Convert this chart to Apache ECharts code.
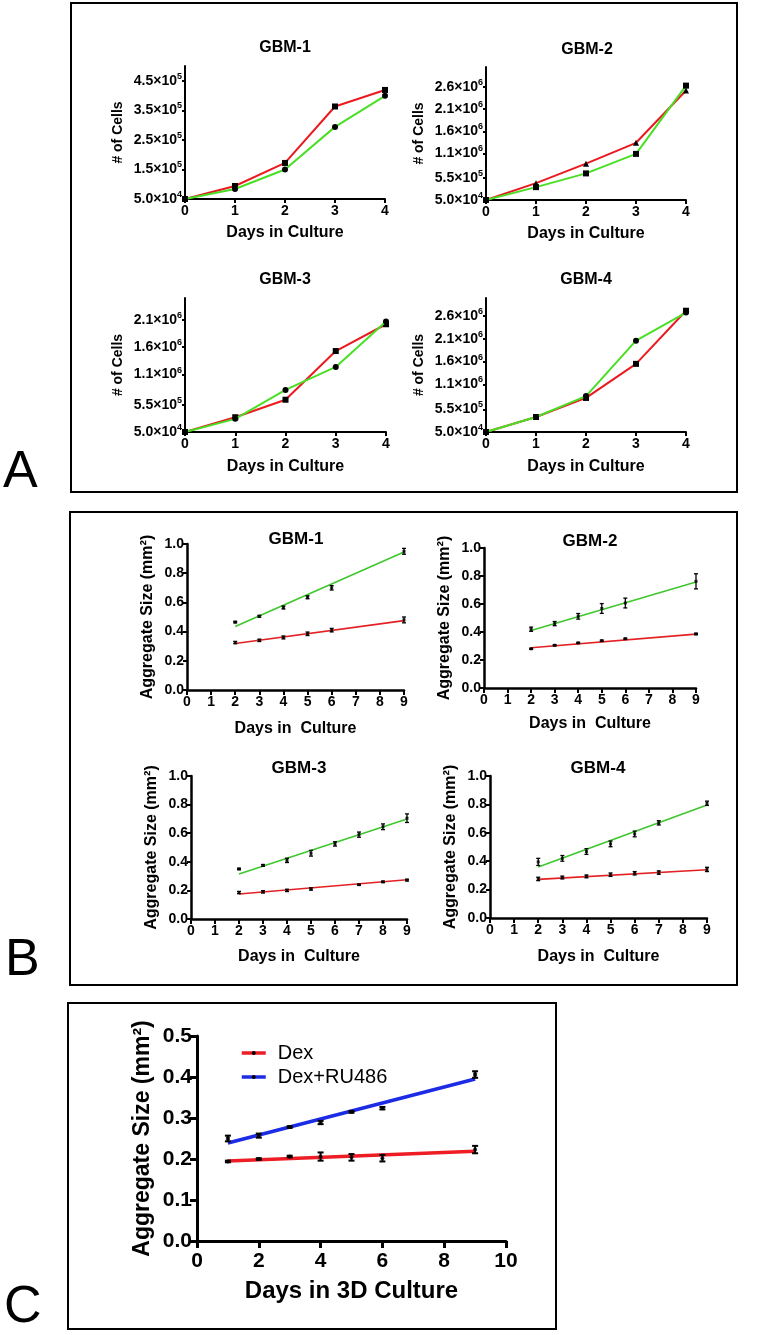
<!DOCTYPE html>
<html><head><meta charset="utf-8">
<script src="https://cdn.jsdelivr.net/npm/echarts@6/dist/echarts.min.js"></script>
<style>html,body{margin:0;padding:0;background:#fff}#c{width:763px;height:1335px}</style>
</head><body><div id="c"></div>
<script>
// ---------------- DATA ----------------
// Panel A: cell counts
const A_days = [0, 1, 2, 3, 4];
const A_titles = ['GBM-1', 'GBM-2', 'GBM-3', 'GBM-4'];
const A1_red   = [5.0e4, 9.4e4, 1.72e5, 3.63e5, 4.19e5];
const A1_green = [5.0e4, 8.4e4, 1.50e5, 2.94e5, 3.99e5];
const A2_red   = [5.0e4, 4.3e5, 8.7e5, 1.34e6, 2.52e6];
const A2_green = [5.0e4, 3.4e5, 6.5e5, 1.09e6, 2.63e6];
const A3_red   = [5.0e4, 3.2e5, 6.4e5, 1.53e6, 2.02e6];
const A3_green = [5.0e4, 2.9e5, 8.2e5, 1.24e6, 2.07e6];
const A4_red   = [5.0e4, 3.8e5, 8.0e5, 1.55e6, 2.72e6];
const A4_green = [5.0e4, 3.8e5, 8.4e5, 2.06e6, 2.68e6];
const A1_yTicks = [5.0e4, 1.5e5, 2.5e5, 3.5e5, 4.5e5];
const A2_yTicks = [5.0e4, 5.5e5, 1.1e6, 1.6e6, 2.1e6, 2.6e6];
const A3_yTicks = [5.0e4, 5.5e5, 1.1e6, 1.6e6, 2.1e6];
const A4_yTicks = [5.0e4, 5.5e5, 1.1e6, 1.6e6, 2.1e6, 2.6e6];
const A_yMin = [5.0e4, 5.0e4, 5.0e4, 5.0e4];
const A_yMax = [5.0e5, 3.05e6, 2.5e6, 3.0e6];
const A_xTicks = [0, 1, 2, 3, 4];

// Panel B: aggregate size (mean, error) + linear fits
const B_titles = ['GBM-1', 'GBM-2', 'GBM-3', 'GBM-4'];
const B1_days = [2, 3, 4, 5, 6, 9];
const B1_green = [0.465, 0.505, 0.565, 0.635, 0.700, 0.950];
const B1_greenErr = [0.005, 0.006, 0.010, 0.010, 0.015, 0.020];
const B1_red = [0.325, 0.340, 0.360, 0.385, 0.410, 0.480];
const B1_redErr = [0.008, 0.008, 0.010, 0.012, 0.012, 0.020];
const B2_days = [2, 3, 4, 5, 6, 9];
const B2_green = [0.420, 0.460, 0.512, 0.568, 0.607, 0.762];
const B2_greenErr = [0.015, 0.015, 0.020, 0.035, 0.035, 0.054];
const B2_red = [0.280, 0.305, 0.322, 0.338, 0.352, 0.386];
const B2_redErr = [0.004, 0.004, 0.004, 0.004, 0.004, 0.005];
const B3_greenDays = [2, 3, 4, 5, 6, 7, 8, 9];
const B3_green = [0.350, 0.375, 0.410, 0.460, 0.525, 0.590, 0.645, 0.705];
const B3_greenErr = [0.005, 0.006, 0.015, 0.020, 0.015, 0.018, 0.020, 0.030];
const B3_redDays = [2, 3, 4, 5, 7, 8, 9];
const B3_red = [0.185, 0.190, 0.200, 0.210, 0.240, 0.260, 0.272];
const B3_redErr = [0.008, 0.008, 0.008, 0.008, 0.004, 0.005, 0.006];
const B4_days = [2, 3, 4, 5, 6, 7, 9];
const B4_green = [0.395, 0.420, 0.468, 0.522, 0.592, 0.670, 0.808];
const B4_greenErr = [0.025, 0.020, 0.020, 0.020, 0.020, 0.015, 0.015];
const B4_red = [0.275, 0.285, 0.293, 0.305, 0.315, 0.320, 0.342];
const B4_redErr = [0.012, 0.010, 0.010, 0.012, 0.012, 0.012, 0.015];
const B_fitDays = [2, 9];
const B1_greenFit = [0.435, 0.945];
const B1_redFit = [0.318, 0.475];
const B2_greenFit = [0.410, 0.757];
const B2_redFit = [0.288, 0.385];
const B3_greenFit = [0.315, 0.700];
const B3_redFit = [0.175, 0.275];
const B4_greenFit = [0.360, 0.795];
const B4_redFit = [0.272, 0.340];

// Panel C: Dex vs Dex+RU486
const C_days = [1, 2, 3, 4, 5, 6, 9];
const C_dex = [0.194, 0.200, 0.206, 0.206, 0.204, 0.202, 0.223];
const C_dexErr = [0.002, 0.002, 0.002, 0.010, 0.008, 0.008, 0.009];
const C_ru = [0.250, 0.257, 0.278, 0.289, 0.315, 0.324, 0.406];
const C_ruErr = [0.007, 0.005, 0.002, 0.004, 0.002, 0.003, 0.008];
const C_fitDays = [1, 9];
const C_dexFit = [0.195, 0.219];
const C_ruFit = [0.239, 0.395];
const C_names = ['Dex', 'Dex+RU486'];

// ---------------- BUILD ----------------
const FONT = '"Liberation Sans", Arial, Helvetica, sans-serif';
const zip = (xs, ys) => xs.map((x, i) => [x, ys[i]]);

function sci(v) {
  const e = Math.floor(Math.log10(v) + 1e-9);
  const m = v / Math.pow(10, e);
  return '{m|' + m.toFixed(1) + '×10}{e|' + e + '}';
}

function errSeries(xi, days, vals, errs, cap, lw) {
  return {
    type: 'custom', xAxisIndex: xi, yAxisIndex: xi, silent: true, z: 6,
    data: days.map((d, i) => [d, vals[i] - errs[i], vals[i] + errs[i]]),
    encode: { x: 0, y: [1, 2] },
    renderItem(params, api) {
      const x = api.value(0);
      const lo = api.coord([x, api.value(1)]);
      const hi = api.coord([x, api.value(2)]);
      const h = cap / 2;
      const st = { stroke: '#000', lineWidth: lw };
      return { type: 'group', children: [
        { type: 'line', shape: { x1: lo[0], y1: lo[1], x2: hi[0], y2: hi[1] }, style: st },
        { type: 'line', shape: { x1: lo[0] - h, y1: lo[1], x2: lo[0] + h, y2: lo[1] }, style: st },
        { type: 'line', shape: { x1: hi[0] - h, y1: hi[1], x2: hi[0] + h, y2: hi[1] }, style: st }
      ]};
    }
  };
}

const grids = [
  { left: 185, top: 66, width: 200, height: 133 },
  { left: 486, top: 67, width: 200, height: 133 },
  { left: 185, top: 298, width: 201, height: 134 },
  { left: 486, top: 298, width: 200, height: 134 },
  { left: 187, top: 544, width: 217, height: 146 },
  { left: 484, top: 548, width: 212, height: 140 },
  { left: 191, top: 776, width: 216, height: 143 },
  { left: 490, top: 776, width: 217, height: 142 },
  { left: 197, top: 1036, width: 309, height: 205 }
];

const axLine = w => ({ show: true, onZero: false, lineStyle: { color: '#000', width: w } });
const xAxes = [], yAxes = [], series = [], titles = [];

// Panel A
const A_red = [A1_red, A2_red, A3_red, A4_red];
const A_green = [A1_green, A2_green, A3_green, A4_green];
const A_yT = [A1_yTicks, A2_yTicks, A3_yTicks, A4_yTicks];
const A_redSym = ['rect', 'triangle', 'rect', 'rect'];
const A_greenSym = ['circle', 'rect', 'circle', 'circle'];
const A_titlePos = [[285, 40], [587, 42], [285, 272], [586, 272]];
const A_xGap = [26, 26, 27, 27];
for (let i = 0; i < 4; i++) {
  xAxes.push({
    gridIndex: i, type: 'value', min: 0, max: 4, interval: 1,
    axisLine: axLine(2), splitLine: { show: false },
    axisTick: { show: true, length: 4, lineStyle: { width: 2, color: '#000' }, customValues: A_xTicks },
    axisLabel: { color: '#000', fontFamily: FONT, fontWeight: 'bold', fontSize: 14, margin: 5, customValues: A_xTicks },
    name: 'Days in Culture', nameLocation: 'middle', nameGap: A_xGap[i],
    nameTextStyle: { color: '#000', fontFamily: FONT, fontWeight: 'bold', fontSize: 16 }
  });
  yAxes.push({
    gridIndex: i, type: 'value', min: A_yMin[i], max: A_yMax[i],
    axisLine: axLine(2), splitLine: { show: false },
    axisTick: { show: true, length: 3, lineStyle: { width: 2, color: '#000' }, customValues: A_yT[i] },
    axisLabel: { color: '#000', margin: 3, customValues: A_yT[i], formatter: v => sci(v),
      rich: { m: { fontFamily: FONT, fontWeight: 'bold', fontSize: 14, color: '#000' },
              e: { fontFamily: FONT, fontWeight: 'bold', fontSize: 9, color: '#000', padding: [0, 0, 9, 0] } } },
    name: '# of Cells', nameLocation: 'middle', nameGap: 60, nameRotate: 90,
    nameTextStyle: { color: '#000', fontFamily: FONT, fontWeight: 'bold', fontSize: 14 }
  });
  titles.push({ text: A_titles[i], left: A_titlePos[i][0], top: A_titlePos[i][1], textAlign: 'center', padding: 0,
    textStyle: { fontFamily: FONT, fontWeight: 'bold', fontSize: 16, color: '#000' } });
  series.push({ type: 'line', xAxisIndex: i, yAxisIndex: i, data: zip(A_days, A_red[i]),
    lineStyle: { color: '#ea1a1f', width: 2 }, itemStyle: { color: '#000' },
    symbol: A_redSym[i], symbolSize: 6, z: 3 });
  series.push({ type: 'line', xAxisIndex: i, yAxisIndex: i, data: zip(A_days, A_green[i]),
    lineStyle: { color: '#49df25', width: 2 }, itemStyle: { color: '#000' },
    symbol: A_greenSym[i], symbolSize: 6, z: 4 });
}

// Panel B
const B_sets = [
  { gd: B1_days, g: B1_green, ge: B1_greenErr, rd: B1_days, r: B1_red, re: B1_redErr, gf: B1_greenFit, rf: B1_redFit },
  { gd: B2_days, g: B2_green, ge: B2_greenErr, rd: B2_days, r: B2_red, re: B2_redErr, gf: B2_greenFit, rf: B2_redFit },
  { gd: B3_greenDays, g: B3_green, ge: B3_greenErr, rd: B3_redDays, r: B3_red, re: B3_redErr, gf: B3_greenFit, rf: B3_redFit },
  { gd: B4_days, g: B4_green, ge: B4_greenErr, rd: B4_days, r: B4_red, re: B4_redErr, gf: B4_greenFit, rf: B4_redFit }
];
const B_titlePos = [[296, 531], [590, 533], [299, 760], [598, 760]];
const B_xGap = [31, 28, 30, 31];
for (let k = 0; k < 4; k++) {
  const i = 4 + k, s = B_sets[k];
  xAxes.push({
    gridIndex: i, type: 'value', min: 0, max: 9, interval: 1,
    axisLine: axLine(2.5), splitLine: { show: false },
    axisTick: { show: true, length: 5, lineStyle: { width: 2, color: '#000' } },
    axisLabel: { color: '#000', fontFamily: FONT, fontWeight: 'bold', fontSize: 14, margin: 5 },
    name: 'Days in  Culture', nameLocation: 'middle', nameGap: B_xGap[k],
    nameTextStyle: { color: '#000', fontFamily: FONT, fontWeight: 'bold', fontSize: 16 }
  });
  yAxes.push({
    gridIndex: i, type: 'value', min: 0, max: 1, interval: 0.2,
    axisLine: axLine(2.5), splitLine: { show: false },
    axisTick: { show: true, length: 4, lineStyle: { width: 2, color: '#000' } },
    axisLabel: { color: '#000', fontFamily: FONT, fontWeight: 'bold', fontSize: 14, margin: 3, formatter: v => v.toFixed(1) },
    name: 'Aggregate Size (mm²)', nameLocation: 'middle', nameGap: 31, nameRotate: 90,
    nameTextStyle: { color: '#000', fontFamily: FONT, fontWeight: 'bold', fontSize: 16 }
  });
  titles.push({ text: B_titles[k], left: B_titlePos[k][0], top: B_titlePos[k][1], textAlign: 'center', padding: 0,
    textStyle: { fontFamily: FONT, fontWeight: 'bold', fontSize: 17, color: '#000' } });
  series.push({ type: 'line', xAxisIndex: i, yAxisIndex: i, data: zip(B_fitDays, s.gf), symbol: 'none',
    lineStyle: { color: '#3fc72e', width: 1.6 }, z: 3 });
  series.push({ type: 'line', xAxisIndex: i, yAxisIndex: i, data: zip(B_fitDays, s.rf), symbol: 'none',
    lineStyle: { color: '#e32024', width: 1.6 }, z: 3 });
  series.push(errSeries(i, s.gd, s.g, s.ge, 4, 1.3));
  series.push(errSeries(i, s.rd, s.r, s.re, 4, 1.3));
  series.push({ type: 'scatter', xAxisIndex: i, yAxisIndex: i, data: zip(s.gd, s.g), symbol: 'rect', symbolSize: 3, itemStyle: { color: '#000' }, z: 7 });
  series.push({ type: 'scatter', xAxisIndex: i, yAxisIndex: i, data: zip(s.rd, s.r), symbol: 'rect', symbolSize: 3, itemStyle: { color: '#000' }, z: 7 });
}

// Panel C
xAxes.push({
  gridIndex: 8, type: 'value', min: 0, max: 10, interval: 2,
  axisLine: axLine(3), splitLine: { show: false },
  axisTick: { show: true, length: 7, lineStyle: { width: 3, color: '#000' } },
  axisLabel: { color: '#000', fontFamily: FONT, fontWeight: 'bold', fontSize: 21, margin: 10 },
  name: 'Days in 3D Culture', nameLocation: 'middle', nameGap: 38,
  nameTextStyle: { color: '#000', fontFamily: FONT, fontWeight: 'bold', fontSize: 24 }
});
yAxes.push({
  gridIndex: 8, type: 'value', min: 0, max: 0.5, interval: 0.1,
  axisLine: axLine(3), splitLine: { show: false },
  axisTick: { show: true, length: 7, lineStyle: { width: 3, color: '#000' } },
  axisLabel: { color: '#000', fontFamily: FONT, fontWeight: 'bold', fontSize: 21, margin: 5, formatter: v => v.toFixed(1) },
  name: 'Aggregate Size (mm²)', nameLocation: 'middle', nameGap: 43, nameRotate: 90,
  nameTextStyle: { color: '#000', fontFamily: FONT, fontWeight: 'bold', fontSize: 23 }
});
series.push({ name: C_names[0], type: 'line', xAxisIndex: 8, yAxisIndex: 8, data: zip(C_fitDays, C_dexFit),
  symbol: 'circle', symbolSize: 4, showSymbol: false, itemStyle: { color: '#000' },
  lineStyle: { color: '#ee1c24', width: 3.5 }, z: 3 });
series.push({ name: C_names[1], type: 'line', xAxisIndex: 8, yAxisIndex: 8, data: zip(C_fitDays, C_ruFit),
  symbol: 'circle', symbolSize: 4, showSymbol: false, itemStyle: { color: '#000' },
  lineStyle: { color: '#1b2ce4', width: 3.5 }, z: 3 });
series.push(errSeries(8, C_days, C_dex, C_dexErr, 6, 2));
series.push(errSeries(8, C_days, C_ru, C_ruErr, 6, 2));
series.push({ type: 'scatter', xAxisIndex: 8, yAxisIndex: 8, data: zip(C_days, C_dex), symbol: 'circle', symbolSize: 4, itemStyle: { color: '#000' }, z: 7 });
series.push({ type: 'scatter', xAxisIndex: 8, yAxisIndex: 8, data: zip(C_days, C_ru), symbol: 'rect', symbolSize: 4, itemStyle: { color: '#000' }, z: 7 });

const chart = echarts.init(document.getElementById('c'), null, { renderer: 'canvas' });
chart.setOption({
  backgroundColor: '#fff',
  animation: false,
  title: titles,
  grid: grids,
  xAxis: xAxes,
  yAxis: yAxes,
  series: series,
  legend: {
    data: C_names, orient: 'vertical', left: 240, top: 1043, itemWidth: 24, itemHeight: 5, itemGap: 4,
    lineStyle: { width: 3.5 },
    padding: 0, textStyle: { fontFamily: FONT, fontSize: 20, color: '#000', padding: [0, 0, 0, 7] }, selectedMode: false
  },
  graphic: [
    { type: 'rect', shape: { x: 71, y: 3, width: 666, height: 489 }, style: { fill: 'none', stroke: '#000', lineWidth: 2 } },
    { type: 'rect', shape: { x: 70, y: 512, width: 667, height: 473 }, style: { fill: 'none', stroke: '#000', lineWidth: 2 } },
    { type: 'rect', shape: { x: 68, y: 1003, width: 488, height: 326 }, style: { fill: 'none', stroke: '#000', lineWidth: 2 } },
    { type: 'text', left: 3, top: 447, style: { text: 'A', fontFamily: FONT, fontSize: 52, fill: '#000' } },
    { type: 'text', left: 5, top: 935, style: { text: 'B', fontFamily: FONT, fontSize: 52, fill: '#000' } },
    { type: 'text', left: 4, top: 1282, style: { text: 'C', fontFamily: FONT, fontSize: 52, fill: '#000' } }
  ]
});
</script>
</body></html>
